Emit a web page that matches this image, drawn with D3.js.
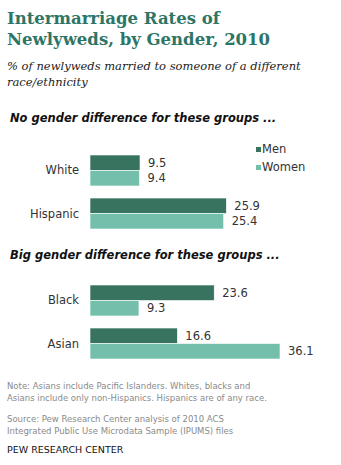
<!DOCTYPE html>
<html>
<head>
<meta charset="utf-8">
<script src="https://cdn.jsdelivr.net/npm/d3@7"></script>
<style>
  body { margin: 0; background: #fff; }
  text { font-family: "DejaVu Sans", Verdana, sans-serif; }
</style>
</head>
<body>
<div id="chart"></div>
<script>
// data
const groupTitles = ["No gender difference for these groups ...", "Big gender difference for these groups ..."];
const categories = [["White", "Hispanic"], ["Black", "Asian"]];
const menValues = [[9.5, 25.9], [23.6, 16.6]];
const womenValues = [[9.4, 25.4], [9.3, 36.1]];
const seriesNames = ["Men", "Women"];

const width = 341, height = 465;
const colors = ["#37735f", "#74bfab"];

let svg = d3.select("#chart")
    .append("svg")
    .attr("width", width)
    .attr("height", height);

// titles
let titleLines = ["Intermarriage Rates of", "Newlyweds, by Gender, 2010"];
titleLines.forEach((t, i) => {
    svg.append("text")
        .attr("x", 7).attr("y", 24 + i * 21)
        .style("font-family", "'DejaVu Serif', Georgia, serif")
        .style("font-weight", "bold")
        .style("font-size", "16.5px")
        .attr("fill", "#2d7566")
        .text(t);
});

let sub = ["% of newlyweds married to someone of a different", "race/ethnicity"];
sub.forEach((s, i) => {
    svg.append("text")
        .attr("x", 7).attr("y", 70 + i * 16)
        .style("font-family", "'DejaVu Serif', Georgia, serif")
        .style("font-style", "italic")
        .style("font-size", "11.5px")
        .attr("fill", "#222")
        .text(s);
});

let x = d3.scaleLinear().domain([0, 36.1]).range([90, 280]);

let groupRange = [[155, 229], [285, 359]];
let headY = [122, 259];

categories.forEach((cats, g) => {
    svg.append("text")
        .attr("x", 10).attr("y", headY[g])
        .style("font-weight", "bold")
        .style("font-style", "italic")
        .style("font-size", "11.5px")
        .attr("fill", "#111")
        .text(groupTitles[g]);

    let y = d3.scaleBand()
        .domain(cats)
        .range(groupRange[g])
        .paddingInner(0.28)
        .paddingOuter(0);

    cats.forEach((c, i) => {
        let vals = [menValues[g][i], womenValues[g][i]];
        let bh = y.bandwidth() / 2;
        svg.append("text")
            .attr("x", 79)
            .attr("y", y(c) + y.bandwidth() / 2 + 4)
            .attr("text-anchor", "end")
            .style("font-size", "11.5px")
            .attr("fill", "#333")
            .text(c);
        vals.forEach((v, s) => {
            svg.append("rect")
                .attr("x", x(0))
                .attr("y", y(c) + s * bh)
                .attr("width", x(v) - x(0))
                .attr("height", bh)
                .attr("fill", colors[s])
                .attr("stroke", "#fff")
                .attr("stroke-width", 0.6);
            svg.append("text")
                .attr("x", x(v) + 8)
                .attr("y", y(c) + s * bh + bh / 2 + 4)
                .style("font-size", "11.5px")
                .attr("fill", "#333")
                .text(v.toFixed(1));
        });
    });
});

// legend
seriesNames.forEach((n, i) => {
    svg.append("rect")
        .attr("x", 256).attr("y", 147 + i * 18)
        .attr("width", 5).attr("height", 5)
        .attr("fill", colors[i]);
    svg.append("text")
        .attr("x", 262).attr("y", 153 + i * 18)
        .style("font-size", "11.5px")
        .attr("fill", "#333")
        .text(n);
});

// notes
let notes = [
    ["Note: Asians include Pacific Islanders. Whites, blacks and", 389],
    ["Asians include only non-Hispanics. Hispanics are of any race.", 401],
    ["Source: Pew Research Center analysis of 2010 ACS", 422],
    ["Integrated Public Use Microdata Sample (IPUMS)  files", 434]
];
notes.forEach(n => {
    svg.append("text")
        .attr("x", 7).attr("y", n[1])
        .style("font-size", "8.5px")
        .attr("fill", "#8a8a8a")
        .text(n[0]);
});
svg.append("text")
    .attr("x", 7).attr("y", 453)
    .style("font-size", "9.5px")
    .attr("fill", "#111")
    .text("PEW RESEARCH  CENTER");
</script>
</body>
</html>
